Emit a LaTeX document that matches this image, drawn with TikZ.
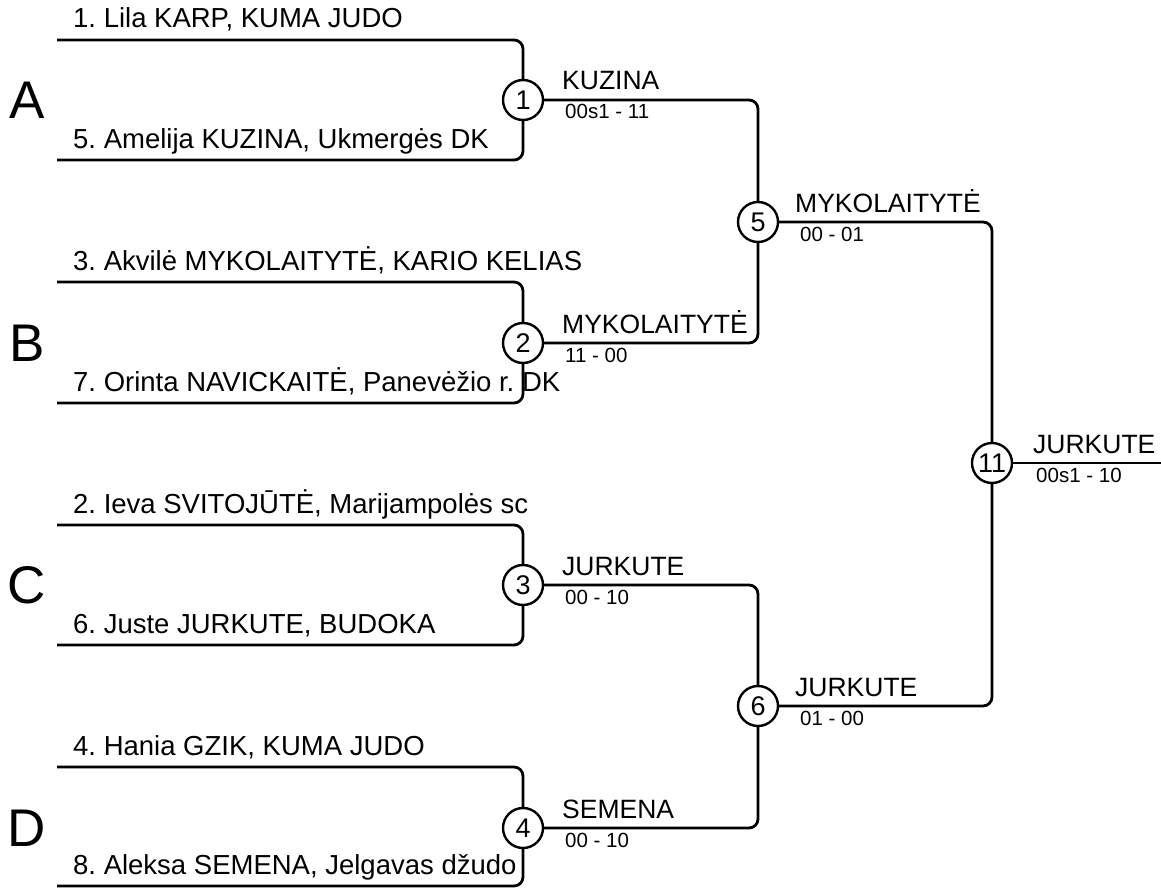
\documentclass[tikz,border=0pt]{standalone}
\usepackage{fontspec}
\setmainfont{Liberation Sans}
\frenchspacing
\begin{document}
\begin{tikzpicture}[x=1pt,y=-1pt,
  line/.style={line width=2.8pt,rounded corners=9pt},
  match/.style={circle,draw,line width=2.4pt,minimum size=40pt,inner sep=0pt,font=\fontsize{27}{27}\selectfont},
  player/.style={anchor=base west,inner sep=0pt,font=\fontsize{27.5}{30}\selectfont},
  winner/.style={anchor=base west,inner sep=0pt,font=\fontsize{26.5}{30}\selectfont},
  score/.style={anchor=base west,inner sep=0pt,font=\fontsize{20.5}{22}\selectfont},
  pool/.style={inner sep=0pt,font=\fontsize{53}{53}\selectfont}]
\useasboundingbox (0,0) rectangle (1161,888);
% pools
\node[pool] (A) at (27,100) {A};
\node[pool] (B) at (27,343) {B};
\node[pool] (C) at (27,585) {C};
\node[pool] (D) at (27,828) {D};
% matches
\node[match] (m1) at (523,100) {1};
\node[match] (m2) at (523,343) {2};
\node[match] (m3) at (523,585) {3};
\node[match] (m4) at (523,828) {4};
\node[match] (m5) at (758,222) {5};
\node[match] (m6) at (758,706) {6};
\node[match] (m11) at (992,463) {11};
% player line starts
\coordinate (p1) at (57,40);
\coordinate (p5) at (57,160);
\coordinate (p3) at (57,282);
\coordinate (p7) at (57,403);
\coordinate (p2) at (57,525);
\coordinate (p6) at (57,645);
\coordinate (p4) at (57,767);
\coordinate (p8) at (57,886);
\coordinate (fin) at (1161,463);
% player names
\node[player] (n1) at (73,28) {1. Lila KARP, KUMA JUDO};
\node[player] (n5) at (73,148) {5. Amelija KUZINA, Ukmergės DK};
\node[player] (n3) at (73,270) {3. Akvilė MYKOLAITYTĖ, KARIO KELIAS};
\node[player] (n7) at (73,391) {7. Orinta NAVICKAITĖ, Panevėžio r. DK};
\node[player] (n2) at (73,513) {2. Ieva SVITOJŪTĖ, Marijampolės sc};
\node[player] (n6) at (73,633) {6. Juste JURKUTE, BUDOKA};
\node[player] (n4) at (73,755) {4. Hania GZIK, KUMA JUDO};
\node[player] (n8) at (73,874) {8. Aleksa SEMENA, Jelgavas džudo};
% connectors
\draw[line] (p1) -| (m1);
\draw[line] (p5) -| (m1);
\draw[line] (p3) -| (m2);
\draw[line] (p7) -| (m2);
\draw[line] (p2) -| (m3);
\draw[line] (p6) -| (m3);
\draw[line] (p4) -| (m4);
\draw[line] (p8) -| (m4);
\draw[line] (m1) -| (m5);
\draw[line] (m2) -| (m5);
\draw[line] (m3) -| (m6);
\draw[line] (m4) -| (m6);
\draw[line] (m5) -| (m11);
\draw[line] (m6) -| (m11);
\draw[line] (m11) -- (fin);
% winners and scores
\node[winner] (w1) at (562,90) {KUZINA};
\node[score] (s1) at (565,119) {00s1 - 11};
\node[winner] (w2) at (562,333) {MYKOLAITYTĖ};
\node[score] (s2) at (565,362) {11 - 00};
\node[winner] (w3) at (562,575) {JURKUTE};
\node[score] (s3) at (565,604) {00 - 10};
\node[winner] (w4) at (562,818) {SEMENA};
\node[score] (s4) at (565,847) {00 - 10};
\node[winner] (w5) at (795,212) {MYKOLAITYTĖ};
\node[score] (s5) at (800,241) {00 - 01};
\node[winner] (w6) at (795,696) {JURKUTE};
\node[score] (s6) at (800,725) {01 - 00};
\node[winner] (w11) at (1033,453) {JURKUTE};
\node[score] (s11) at (1036,482) {00s1 - 10};
\end{tikzpicture}
\end{document}
